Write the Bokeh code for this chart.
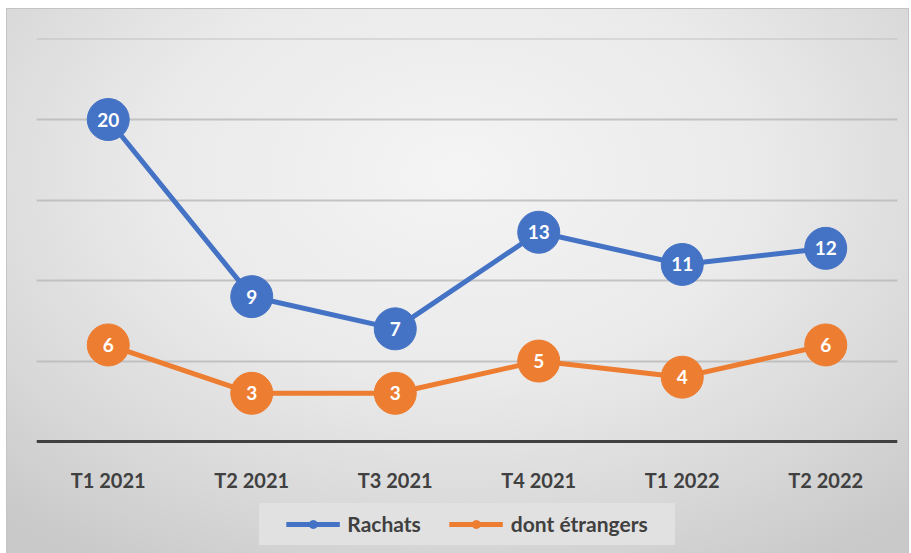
from bokeh.plotting import figure
from bokeh.models import FactorRange, Range1d, FixedTicker, Legend, LegendItem, ColumnDataSource
from bokeh.core.properties import value
from bokeh.embed import file_html
from bokeh.resources import INLINE

categories = ["T1 2021", "T2 2021", "T3 2021", "T4 2021", "T1 2022", "T2 2022"]
rachats = [20, 9, 7, 13, 11, 12]
etrangers = [6, 3, 3, 5, 4, 6]
series_names = ["Rachats", "dont étrangers"]
colors = ["#4472C4", "#ED7D31"]
grid_ticks = [5, 10, 15, 20, 25]

FONT = "Lato"

p = figure(width=911, height=553, output_backend="svg", toolbar_location=None,
           x_range=FactorRange(*categories), y_range=Range1d(-6.95, 25.03),
           min_border_left=36, min_border_right=14, min_border_top=38, min_border_bottom=0)
p.background_fill_color = None
p.border_fill_color = None
p.outline_line_color = None
p.styles = {
    "background": ("linear-gradient(#e1e1e1, #e1e1e1) 259px 503px / 416px 42px no-repeat, "
                   "radial-gradient(ellipse 75% 85% at 50% 30%, #f4f4f4 0%, #eaeaea 45%, "
                   "#d9d9d9 75%, #c9c9c9 100%) 7px 9px / 901px 544px no-repeat, "
                   "linear-gradient(#c4c4c4, #c4c4c4) 6px 8px / 903px 545px no-repeat, #ffffff"),
}

p.yaxis.visible = False
p.ygrid.ticker = FixedTicker(ticks=grid_ticks)
p.ygrid.grid_line_color = "#b8b8b8"
p.ygrid.grid_line_width = 2
p.ygrid.grid_line_alpha = 0.8
p.xgrid.visible = False

ax = p.xaxis[0]
ax.fixed_location = 0
ax.axis_line_color = "#404040"
ax.axis_line_width = 3
ax.major_tick_line_color = None
ax.minor_tick_line_color = None
ax.major_label_standoff = 20
ax.major_label_text_font = FONT
ax.major_label_text_font_style = "bold"
ax.major_label_text_font_size = "20px"
ax.major_label_text_color = "#404040"

items = []
for vals, name, col in zip([rachats, etrangers], series_names, colors):
    src = ColumnDataSource(dict(x=categories, y=vals, t=[str(v) for v in vals]))
    ln = p.line("x", "y", source=src, line_color=col, line_width=5)
    small = p.scatter("x", "y", source=src, size=11, fill_color=col, line_color=col)
    p.scatter("x", "y", source=src, size=42, fill_color=col, line_color=col)
    p.text("x", "y", text="t", source=src, text_color="white", text_align="center",
           text_baseline="middle", text_font=value(FONT), text_font_style="bold",
           text_font_size="19px")
    items.append(LegendItem(label=name, renderers=[ln, small]))

legend = Legend(items=items, orientation="horizontal", location="bottom_center",
                glyph_width=54, glyph_height=20, label_standoff=8, spacing=28,
                padding=10, margin=17,
                background_fill_alpha=0,
                border_line_color=None,
                label_text_font=FONT, label_text_font_style="bold",
                label_text_font_size="21px", label_text_color="#404040")
p.add_layout(legend, "center")

open("out.html", "w").write(file_html(p, INLINE))
